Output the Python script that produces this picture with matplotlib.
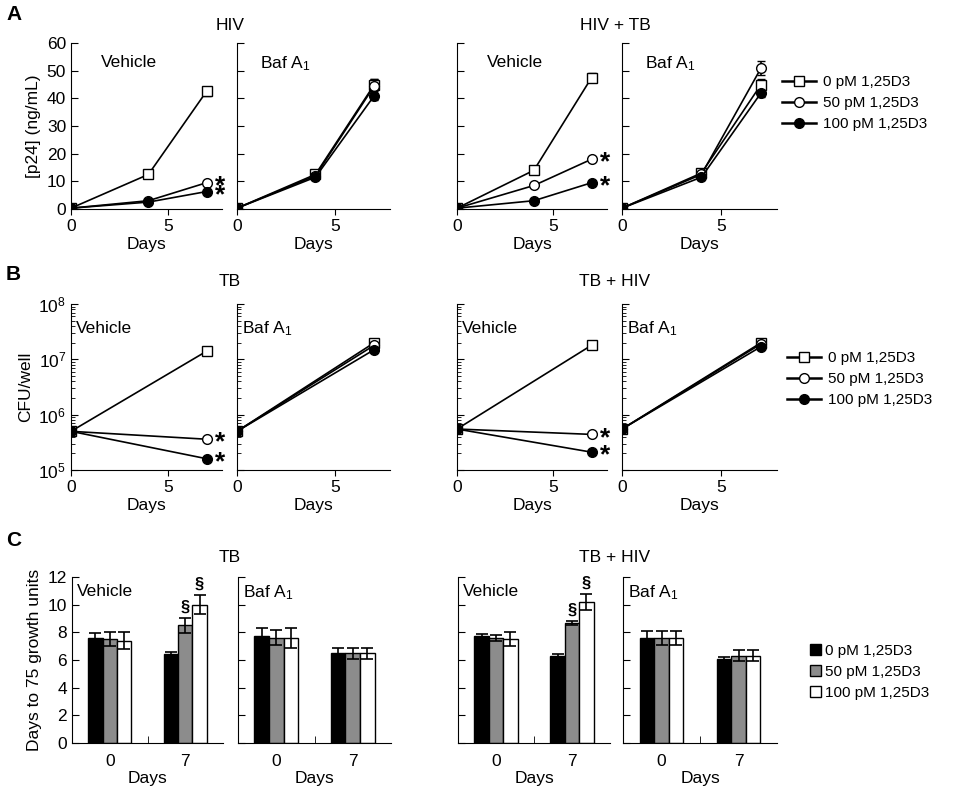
import matplotlib
matplotlib.use("Agg")
import matplotlib.pyplot as plt
import numpy as np
from matplotlib.lines import Line2D
from matplotlib.patches import Patch

plt.rcParams['font.family'] = ['Liberation Sans', 'DejaVu Sans']
plt.rcParams['mathtext.fontset'] = 'custom'
plt.rcParams['mathtext.rm'] = 'Liberation Sans'
plt.rcParams['mathtext.it'] = 'Liberation Sans'
plt.rcParams['font.size'] = 12.5

series = ["0 pM 1,25D3", "50 pM 1,25D3", "100 pM 1,25D3"]
days_a = [0, 4, 7]
# Row A p24 (ng/mL)
a_hiv_veh = [[0.3, 12.5, 42.5], [0.3, 3.0, 9.5], [0.3, 2.5, 6.3]]
a_hiv_baf = [[0.3, 12.5, 45.0], [0.3, 12.0, 44.5], [0.3, 11.5, 41.0]]
a_hivtb_veh = [[0.3, 14.0, 47.5], [0.3, 8.5, 18.0], [0.3, 3.0, 9.5]]
a_hivtb_baf = [[0.3, 13.0, 45.0], [0.3, 12.5, 51.0], [0.3, 11.5, 42.0]]
a_err_veh = [[0.3, 0.5, 1.5], [0.2, 0.4, 0.6], [0.2, 0.3, 0.5]]
a_err_baf = [[0.3, 1.0, 2.0], [0.3, 1.0, 2.5], [0.3, 1.0, 1.5]]
# Row B CFU/well
days_b = [0, 7]
b_tb_veh = [[5e5, 1.4e7], [5e5, 3.6e5], [5e5, 1.6e5]]
b_tb_baf = [[5e5, 2.0e7], [5e5, 1.8e7], [5e5, 1.5e7]]
b_tbhiv_veh = [[5.5e5, 1.8e7], [5.5e5, 4.4e5], [5.5e5, 2.1e5]]
b_tbhiv_baf = [[5.5e5, 2.0e7], [5.5e5, 1.9e7], [5.5e5, 1.7e7]]
# Row C days to 75 growth units
c_days = ["0", "7"]
c_tb_veh = [[7.6, 6.4], [7.5, 8.5], [7.4, 10.0]]
c_tb_veh_e = [[0.35, 0.2], [0.5, 0.55], [0.6, 0.7]]
c_tb_baf = [[7.7, 6.5], [7.6, 6.5], [7.6, 6.5]]
c_tb_baf_e = [[0.6, 0.35], [0.55, 0.4], [0.7, 0.4]]
c_tbhiv_veh = [[7.7, 6.3], [7.6, 8.7], [7.5, 10.2]]
c_tbhiv_veh_e = [[0.2, 0.15], [0.2, 0.15], [0.5, 0.6]]
c_tbhiv_baf = [[7.6, 6.1], [7.6, 6.3], [7.6, 6.3]]
c_tbhiv_baf_e = [[0.5, 0.15], [0.5, 0.4], [0.5, 0.4]]

W, H = 963, 800
fig = plt.figure(figsize=(W/100, H/100), dpi=100)

def mkax(x0, x1, yt, yb):
    return fig.add_axes([x0/W, 1-yb/H, (x1-x0)/W, (yb-yt)/H])

def style(ax):
    for s in ['top', 'right']:
        ax.spines[s].set_visible(False)
    ax.tick_params(axis='y', direction='in', length=5)
    ax.tick_params(axis='x', direction='out', length=4)

mk = [dict(marker='s', mfc='white'), dict(marker='o', mfc='white'), dict(marker='o', mfc='black')]
xs = [(71, 222), (237, 390), (457, 607), (622, 777)]

def line_panel(ax, days, data, err=None):
    for i, d in enumerate(data):
        ax.errorbar(days, d, yerr=None if err is None else err[i], color='black', mec='black',
                    ms=7, lw=1.2, capsize=3, **mk[i])

def star(ax, x, y):
    ax.annotate("*", (x, y), xytext=(6, -2.5), textcoords='offset points',
                fontsize=19, fontweight='bold', va='center', ha='left')

# Row A
A = []
for k, (dat, er) in enumerate([(a_hiv_veh, a_err_veh), (a_hiv_baf, a_err_baf),
                               (a_hivtb_veh, a_err_veh), (a_hivtb_baf, a_err_baf)]):
    ax = mkax(xs[k][0], xs[k][1], 43, 209)
    style(ax)
    line_panel(ax, days_a, dat, er)
    ax.set_xlim(0, 7.8); ax.set_ylim(0, 60)
    ax.set_xticks([0, 5]); ax.set_yticks(range(0, 61, 10))
    ax.set_xlabel("Days", labelpad=2)
    if k == 0:
        ax.set_ylabel("[p24] (ng/mL)")
    else:
        ax.set_yticklabels([])
    ax.text(0.2 if k % 2 == 0 else 0.15, 0.93, "Vehicle" if k % 2 == 0 else "Baf A$_1$",
            transform=ax.transAxes, va='top', ha='left')
    A.append(ax)
for ax, d in [(A[0], a_hiv_veh), (A[2], a_hivtb_veh)]:
    for i in (1, 2):
        star(ax, 7, d[i][2])
fig.text(230/W, 1-25/H, "HIV", ha='center', va='center')
fig.text(615/W, 1-25/H, "HIV + TB", ha='center', va='center')

handles = [Line2D([], [], color='black', ms=7, lw=1.8, **m) for m in mk]
fig.legend(handles, series, loc='center left', bbox_to_anchor=(782/W, 1-103/H),
           frameon=False, fontsize=11, handlelength=2.2, handletextpad=0.5, labelspacing=0.45,
           borderpad=0, borderaxespad=0)

# Row B
B = []
for k, dat in enumerate([b_tb_veh, b_tb_baf, b_tbhiv_veh, b_tbhiv_baf]):
    ax = mkax(xs[k][0], xs[k][1], 304, 470)
    style(ax)
    ax.set_yscale('log')
    line_panel(ax, days_b, dat)
    ax.set_xlim(0, 7.8); ax.set_ylim(1e5, 1e8)
    ax.set_xticks([0, 5])
    ax.set_yticks([1e5, 1e6, 1e7, 1e8])
    ax.tick_params(axis='y', which='minor', direction='in', length=3)
    ax.set_xlabel("Days", labelpad=2)
    if k == 0:
        ax.set_yticklabels(["10$^5$", "10$^6$", "10$^7$", "10$^8$"])
        ax.set_ylabel("CFU/well")
    else:
        ax.set_yticklabels([])
    ax.yaxis.set_minor_formatter(matplotlib.ticker.NullFormatter())
    ax.text(0.03, 0.85, "Vehicle" if k % 2 == 0 else "Baf A$_1$",
            transform=ax.transAxes, va='center', ha='left')
    B.append(ax)
for ax, d in [(B[0], b_tb_veh), (B[2], b_tbhiv_veh)]:
    for i in (1, 2):
        star(ax, 7, d[i][1])
fig.text(230/W, 1-282/H, "TB", ha='center', va='center')
fig.text(615/W, 1-282/H, "TB + HIV", ha='center', va='center')
fig.legend(handles, series, loc='center left', bbox_to_anchor=(787/W, 1-379/H),
           frameon=False, fontsize=11, handlelength=2.2, handletextpad=0.5, labelspacing=0.45,
           borderpad=0, borderaxespad=0)

# Row C
cx = [(72, 223), (238, 391), (458, 610), (623, 777)]
colors = ['black', '#8c8c8c', 'white']
bw = 0.19
C = []
for k, (dat, er) in enumerate([(c_tb_veh, c_tb_veh_e), (c_tb_baf, c_tb_baf_e),
                               (c_tbhiv_veh, c_tbhiv_veh_e), (c_tbhiv_baf, c_tbhiv_baf_e)]):
    ax = mkax(cx[k][0], cx[k][1], 577, 743)
    style(ax)
    pos = np.arange(len(c_days))
    for i in range(3):
        ax.bar(pos + (i - 1) * bw, dat[i], bw, yerr=er[i], color=colors[i], edgecolor='black',
               lw=1, capsize=4, error_kw=dict(lw=1.2, capthick=1.2))
    ax.set_xlim(-0.5, 1.5); ax.set_ylim(0, 12)
    ax.set_xticks(pos); ax.set_xticklabels(c_days)
    ax.set_xticks([0.5], minor=True)
    ax.tick_params(axis='x', which='major', length=0, pad=8)
    ax.tick_params(axis='x', which='minor', direction='in', length=5)
    ax.set_yticks(range(0, 13, 2))
    ax.set_xlabel("Days", labelpad=1)
    if k == 0:
        ax.set_ylabel("Days to 75 growth units")
    else:
        ax.set_yticklabels([])
    ax.text(0.03, 0.96, "Vehicle" if k % 2 == 0 else "Baf A$_1$",
            transform=ax.transAxes, va='top', ha='left')
    if k % 2 == 0:
        for i in (1, 2):
            ax.text(1 + (i - 1) * bw, dat[i][1] + er[i][1] + 0.2, "§", ha='center', va='bottom',
                    fontweight='bold', fontsize=12)
    C.append(ax)
fig.text(230/W, 1-557/H, "TB", ha='center', va='center')
fig.text(615/W, 1-557/H, "TB + HIV", ha='center', va='center')
ph = [Patch(facecolor=c, edgecolor='black') for c in colors]
fig.legend(ph, series, loc='center left', bbox_to_anchor=(810/W, 1-672/H),
           frameon=False, fontsize=11, handlelength=0.7, handleheight=0.7, handletextpad=0.3,
           labelspacing=0.45, borderpad=0, borderaxespad=0)

for t, y in [("A", 15), ("B", 275), ("C", 540)]:
    fig.text(6/W, 1-y/H, t, fontsize=15, fontweight='bold', va='center')

fig.savefig("out.png", dpi=100)
